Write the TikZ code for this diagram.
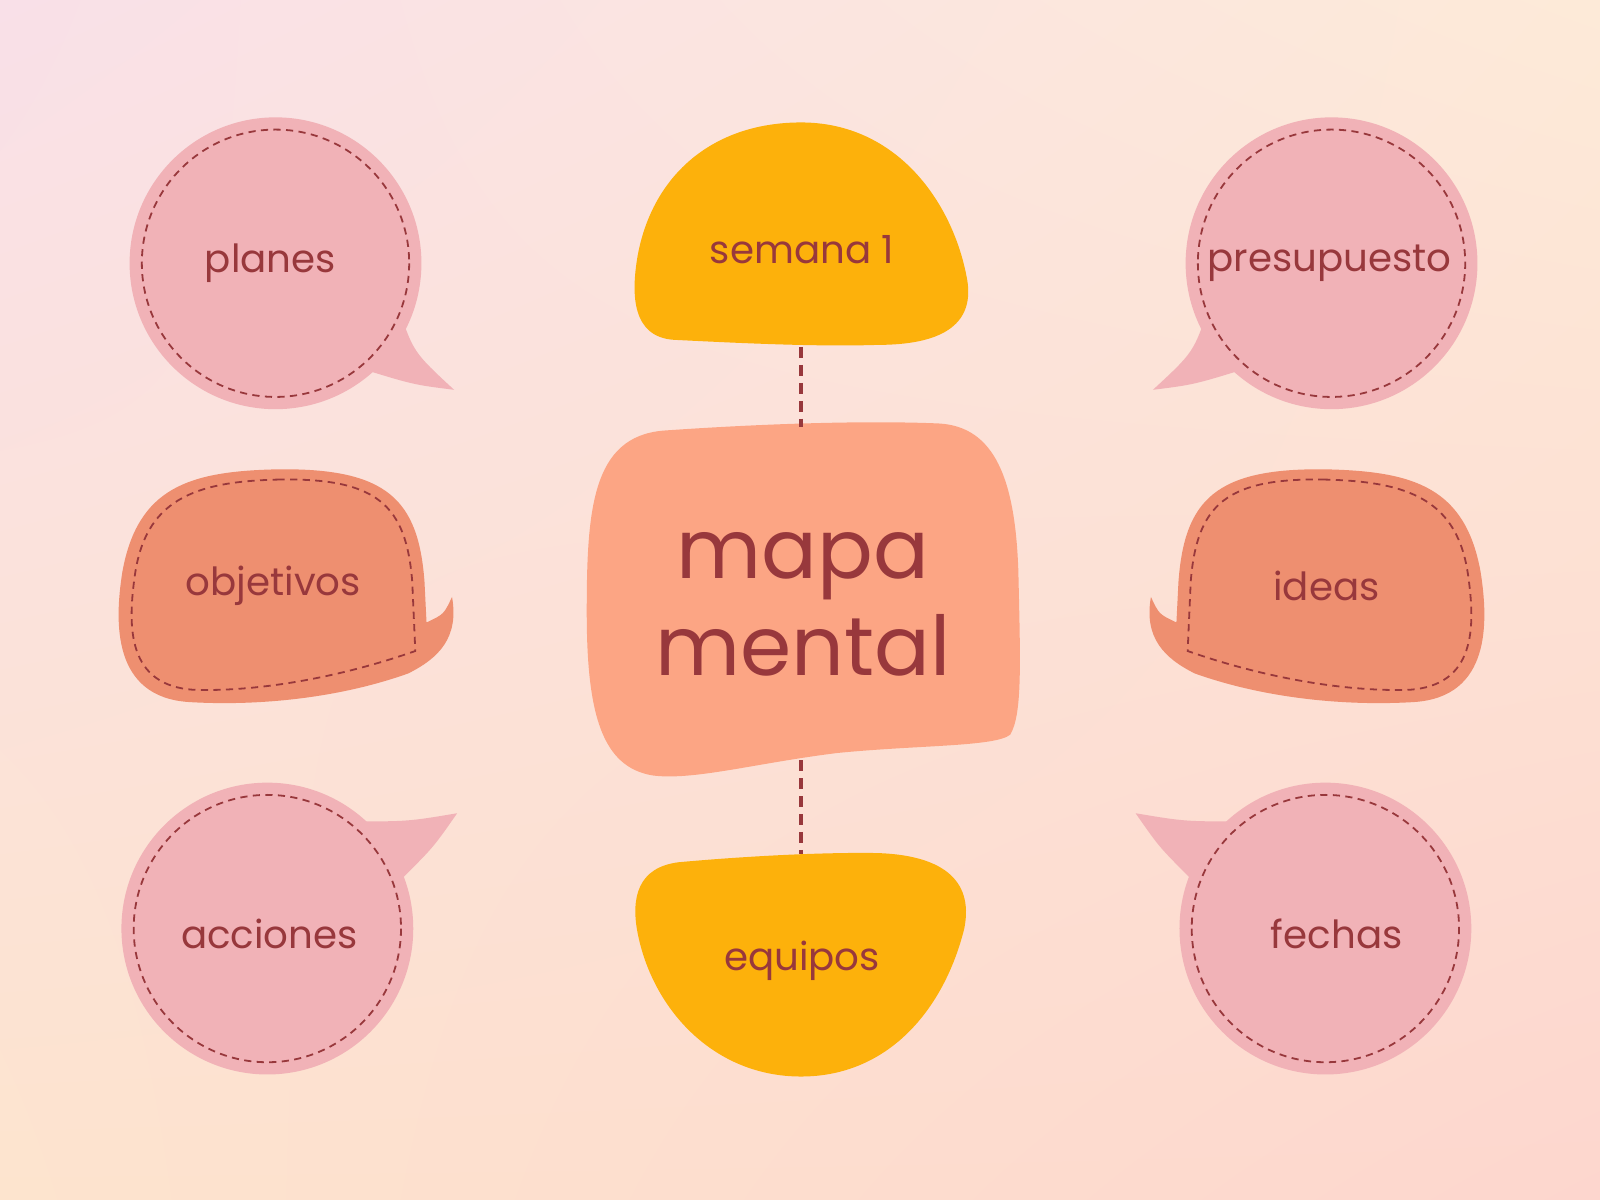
\documentclass[tikz,border=0pt]{standalone}
\usepackage{fontspec}
\setmainfont{Poppins}
\usetikzlibrary{shadings}
\begin{document}
\begin{tikzpicture}[x=0.01cm,y=-0.01cm,
  txt/.style={text=textc,font=\fontsize{10.8}{12}\selectfont},
  inner/.style={draw=textc,dashed,line width=0.5pt,dash pattern=on 2pt off 1.5pt},
  conn/.style={draw=textc,line width=1.2pt,dash pattern=on 3pt off 2pt}]
\definecolor{textc}{HTML}{98383C}
\definecolor{pinkb}{HTML}{F1B2B7}
\definecolor{orab}{HTML}{EE8F70}
\definecolor{cent}{HTML}{FCA584}
\definecolor{yel}{HTML}{FDB10B}
\definecolor{bgul}{HTML}{F9E0E8}
\definecolor{bgur}{HTML}{FDEAD8}
\definecolor{bgll}{HTML}{FDE4CE}
\definecolor{bglr}{HTML}{FDD6CE}
\useasboundingbox (0,0) rectangle (1568,1176);
\shade[upper left=bgul,upper right=bgur,lower left=bgll,lower right=bglr] (0,0) rectangle (1568,1176);
% circle bubbles
\newcommand{\circbubble}[1]{%
 \fill[pinkb] (270,258) circle (143);
 \fill[pinkb] (390,300) .. controls (405,345) .. (445,382) .. controls (405,377) .. (350,360) -- cycle;
 \draw[inner] (270,258) circle (131);}
\newcommand{\circbubbleb}{%
 \fill[pinkb] (262,910) circle (143);
 \fill[pinkb] (345,805) .. controls (400,805) .. (448,797) .. controls (425,830) .. (395,860) -- cycle;
 \draw[inner] (262,910) circle (131);}
\newcommand{\blobbubble}{%
 \fill[orab] (270,460) .. controls (380,458) and (410,490) .. (416,570) -- (418,610) .. controls (435,602) .. (443,585) .. controls (450,625) and (430,645) .. (400,660) .. controls (330,685) and (250,692) .. (185,688) .. controls (110,683) and (112,610) .. (120,560) .. controls (135,478) and (185,462) .. (270,460) -- cycle;
 \draw[inner] (272,470) .. controls (370,468) and (398,495) .. (404,570) -- (407,638) .. controls (330,665) and (250,678) .. (190,676) .. controls (125,672) and (125,615) .. (132,565) .. controls (142,490) and (190,472) .. (272,470) -- cycle;}
\circbubble{}
\circbubbleb
\blobbubble
\begin{scope}[xshift=15.68cm,xscale=-1]
\begin{scope}[xshift=-0.06cm]\circbubble{}\end{scope}
\begin{scope}[xshift=0.08cm]\circbubbleb\end{scope}
\begin{scope}[xshift=-0.02cm]\blobbubble\end{scope}
\end{scope}
% yellow
\fill[yel] (785,120) .. controls (880,120) and (935,200) .. (948,275) .. controls (955,320) and (920,338) .. (860,338) .. controls (800,340) and (720,336) .. (660,333) .. controls (620,330) and (618,290) .. (625,250) .. controls (640,170) and (700,120) .. (785,120) -- cycle;
\fill[yel] (785,1055) .. controls (870,1055) and (925,990) .. (945,910) .. controls (955,860) and (920,838) .. (860,836) .. controls (800,835) and (720,840) .. (665,845) .. controls (625,850) and (618,880) .. (625,915) .. controls (640,990) and (700,1055) .. (785,1055) -- cycle;
% center
\fill[cent] (650,422) .. controls (750,415) and (850,412) .. (920,415) .. controls (975,418) and (995,470) .. (998,560) .. controls (1000,650) and (1002,700) .. (990,720) .. controls (975,732) and (900,730) .. (820,738) .. controls (740,748) and (680,765) .. (640,760) .. controls (590,752) and (575,700) .. (575,600) .. controls (575,500) and (580,428) .. (650,422) -- cycle;
\coordinate (s1) at (785,340); \coordinate (c1) at (785,418);
\coordinate (c2) at (785,745); \coordinate (e1) at (785,837);
\draw[conn] (s1) -- (c1);
\draw[conn] (c2) -- (e1);
\node[txt] (planes) at (265,258) {planes};
\node[txt] (presu) at (1303,258) {presupuesto};
\node[txt] (obj) at (268,574) {objetivos};
\node[txt] (ideas) at (1300,574) {ideas};
\node[txt] (acc) at (264,915) {acciones};
\node[txt] (fech) at (1310,915) {fechas};
\node[txt] (sem) at (786,245) {semana 1};
\node[txt] (equ) at (786,942) {equipos};
\node[text=textc,font=\fontsize{23}{27}\selectfont,align=center] (mm) at (787,592) {mapa\\mental};
\end{tikzpicture}
\end{document}
